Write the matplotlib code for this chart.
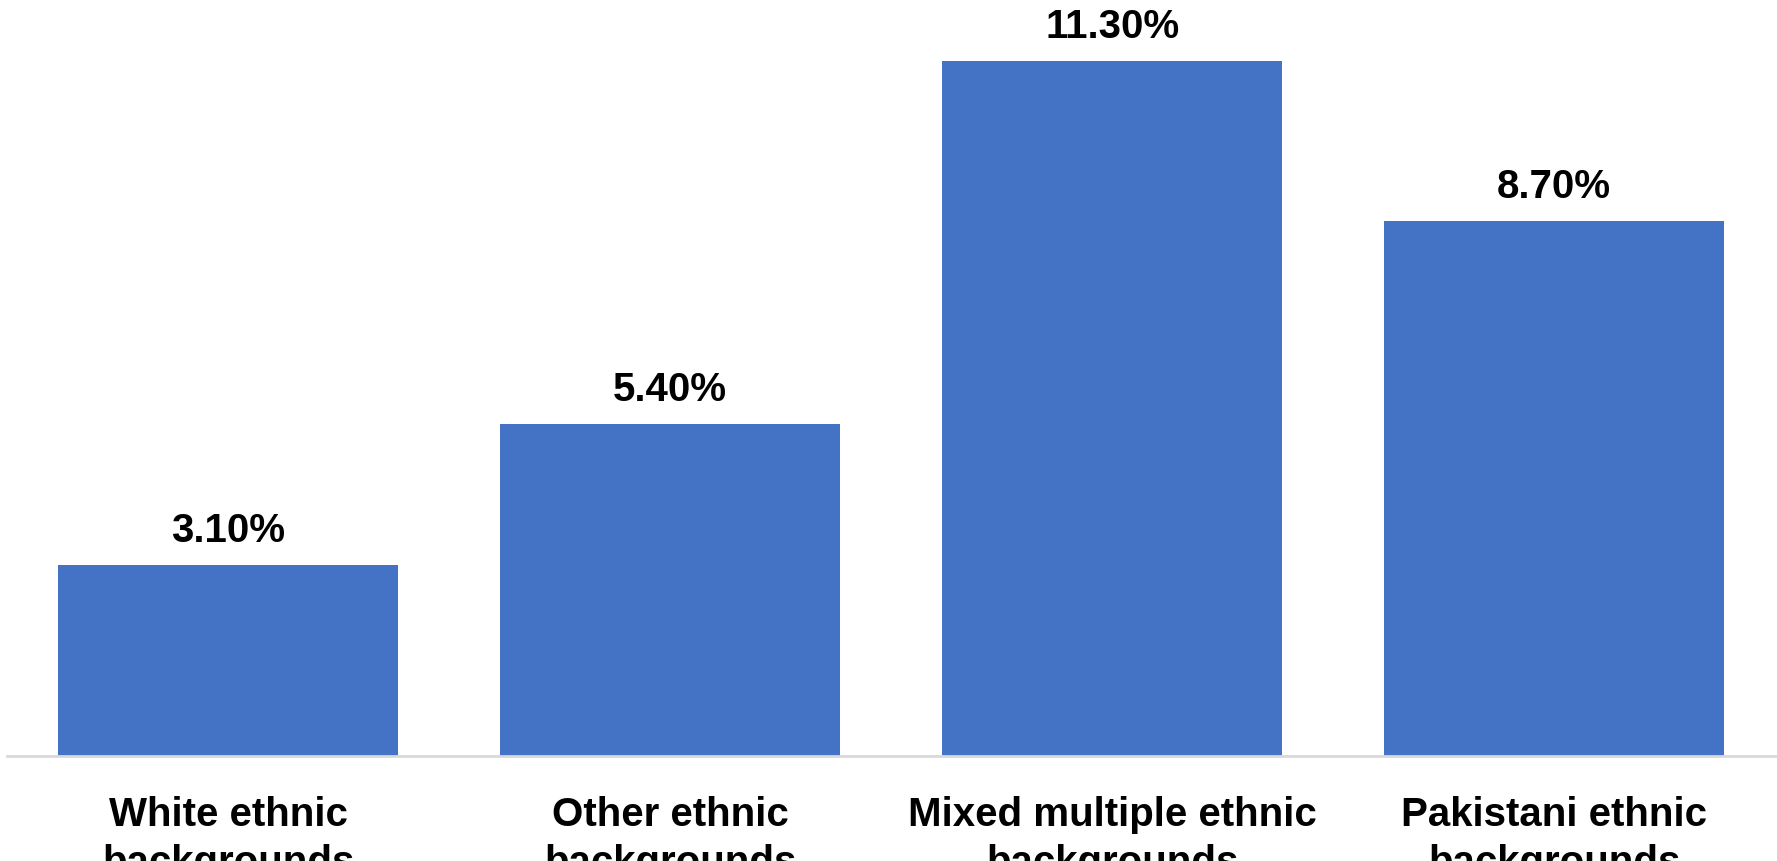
import matplotlib.pyplot as plt

categories = ['White ethnic\nbackgrounds', 'Other ethnic\nbackgrounds',
              'Mixed multiple ethnic\nbackgrounds', 'Pakistani ethnic\nbackgrounds']
values = [3.1, 5.4, 11.3, 8.7]
labels = ['3.10%', '5.40%', '11.30%', '8.70%']

plt.rcParams['font.family'] = ['Liberation Sans', 'DejaVu Sans']

fig = plt.figure(figsize=(17.77, 8.62), dpi=100)
ax = fig.add_axes([0.004, 0.122, 0.995, 0.878])

x = range(len(values))
bars = ax.bar(x, values, width=0.77, color='#4472C4', zorder=2)
for b, lab in zip(bars, labels):
    ax.annotate(lab, (b.get_x() + b.get_width() / 2, b.get_height()),
                xytext=(0, 16), textcoords='offset pixels',
                ha='center', va='bottom', fontsize=29, fontweight='bold')

ax.set_xlim(-0.5, len(values) - 0.5)
ax.set_ylim(0, 12.3)
ax.set_xticks(list(x))
ax.set_xticklabels(categories, fontsize=29, fontweight='bold', linespacing=1.33)
ax.tick_params(axis='x', length=0, pad=28)
ax.set_yticks([])
for side in ['top', 'right', 'left']:
    ax.spines[side].set_visible(False)
ax.spines['bottom'].set_color('#D9D9D9')
ax.spines['bottom'].set_linewidth(2)

fig.savefig('out.png', dpi=100)
